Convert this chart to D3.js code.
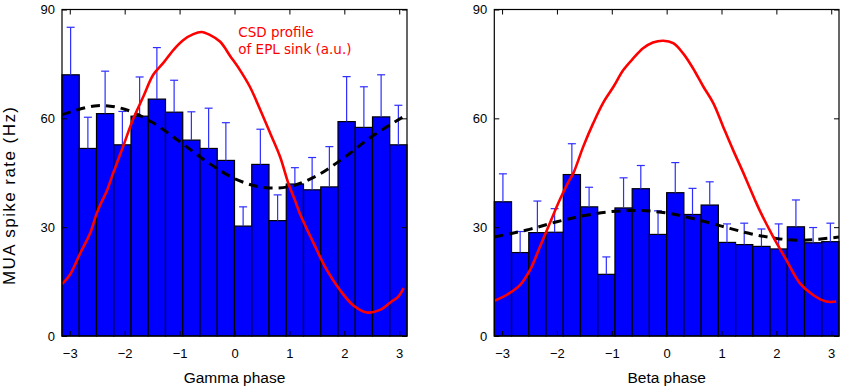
<!DOCTYPE html>
<html>
<head>
<meta charset="utf-8">
<script src="https://cdn.jsdelivr.net/npm/d3@7"></script>
<style>
    body { margin: 0; background: #fff; }
    svg { display: block; }
    text { font-family: "Liberation Sans", Arial, sans-serif; }
</style>
</head>
<body>
<svg id="drawing_region"></svg>
<script>
// tick labels
const phaseTicks = [-3, -2, -1, 0, 1, 2, 3];
const rateTicks = [0, 30, 60, 90];

// mean MUA rate per phase bin (20 bins over -pi..pi) and upper error (Hz)
const gammaRate = [72.0, 51.7, 61.3, 52.7, 60.6, 65.3, 61.7, 54.0, 51.7, 48.4, 30.3, 47.3, 31.8, 41.9, 40.3, 41.1, 59.1, 57.5, 60.4, 52.7];
const gammaErr  = [13.1, 8.6, 11.7, 9.2, 10.8, 14.2, 8.8, 7.8, 11.1, 10.4, 5.3, 9.7, 7.1, 4.5, 8.9, 11.1, 12.4, 11.2, 11.6, 10.9];
const betaRate  = [37.0, 23.0, 28.5, 28.6, 44.5, 35.6, 17.0, 35.3, 40.6, 28.0, 39.5, 33.5, 36.1, 25.8, 25.2, 24.7, 24.0, 30.1, 25.7, 26.0];
const betaErr   = [7.7, 5.8, 8.7, 6.5, 8.5, 5.4, 4.8, 8.3, 6.4, 6.5, 8.3, 7.2, 6.4, 5.1, 5.9, 4.8, 6.9, 7.4, 4.2, 5.1];

// dashed fit [phase, rate]
const gammaFit = [[-3.14, 61], [-2.5, 63.5], [-2, 62.5], [-1.5, 58.9], [-1, 53.6], [-0.5, 48], [0, 43.4],
    [0.5, 41], [1, 41.2], [1.5, 44.2], [2, 49.2], [2.5, 55], [3.14, 61]];
const betaFit = [[-3.14, 27.3], [-2.5, 29.4], [-2, 31.5], [-1.5, 33.2], [-1, 34.3], [-0.5, 34.6], [0, 33.9],
    [0.5, 32.3], [1, 30.3], [1.5, 28.3], [2, 26.9], [2.5, 26.4], [3.14, 27.3]];

// CSD profile (a.u., drawn on the rate scale) [phase, value]
const gammaCsd = [[-3.14, 14.3], [-3.0, 16.8], [-2.81, 22.8], [-2.63, 28.3], [-2.51, 33.8], [-2.42, 37.0], [-2.33, 39.8],
    [-2.21, 44.9], [-2.03, 52.2], [-1.84, 60.0], [-1.66, 66.0], [-1.48, 72.0], [-1.30, 75.2], [-1.11, 78.9],
    [-0.93, 81.6], [-0.75, 83.2], [-0.6, 83.8], [-0.45, 83.0], [-0.26, 81.1], [-0.08, 77.2], [0.10, 73.3],
    [0.28, 68.7], [0.47, 62.3], [0.65, 55.9], [0.83, 49.4], [0.98, 42.1], [1.10, 37.5], [1.19, 33.8],
    [1.44, 25.6], [1.68, 18.2], [1.92, 12.7], [2.16, 8.5], [2.41, 6.5], [2.65, 7.2], [2.86, 9.5],
    [2.98, 10.8], [3.08, 13.2]];
const betaCsd = [[-3.14, 9.7], [-2.92, 11.3], [-2.67, 14.1], [-2.49, 18.2], [-2.31, 24.6], [-2.13, 31.1],
    [-1.95, 37.5], [-1.79, 42.5], [-1.70, 44.9], [-1.52, 52.2], [-1.34, 58.6], [-1.16, 64.2], [-0.97, 68.7],
    [-0.79, 73.3], [-0.61, 76.5], [-0.43, 79.3], [-0.25, 80.9], [-0.06, 81.4], [0.12, 80.7], [0.30, 77.9],
    [0.48, 73.8], [0.67, 68.7], [0.85, 64.2], [1.03, 57.7], [1.21, 51.3], [1.40, 44.9], [1.61, 37.5],
    [1.70, 34.5], [1.94, 27.4], [2.18, 21.0], [2.43, 14.5], [2.67, 11.3], [2.91, 9.5], [3.09, 9.5]];

const svg = d3.select('#drawing_region')
    .attr('width', 850)
    .attr('height', 389);

class PhasePlot {

    constructor(config, data) {
        this.config = config;
        this.data = data;
        this.init();
    }

    init() {
        let self = this;
        const c = self.config;

        self.chart = svg.append('g')
            .attr('transform', `translate(${c.left}, ${c.top})`);

        self.inner_width = c.width;
        self.inner_height = c.height;

        self.xscale = d3.scaleLinear()
            .domain([-Math.PI, Math.PI])
            .range([0, self.inner_width]);

        self.yscale = d3.scaleLinear()
            .domain([0, 90])
            .range([self.inner_height, 0]);

        self.clip_id = 'clip_' + c.name;
        self.chart.append('clipPath')
            .attr('id', self.clip_id)
            .append('rect')
            .attr('width', self.inner_width)
            .attr('height', self.inner_height);
    }

    render() {
        let self = this;
        const d = self.data;
        const n = d.rate.length;
        const bw = 2 * Math.PI / n;
        const bins = d.rate.map((r, i) => ({ x0: -Math.PI + i * bw, x1: -Math.PI + (i + 1) * bw, rate: r, err: d.err[i] }));

        // bars
        self.chart.append('g')
            .selectAll('rect')
            .data(bins)
            .join('rect')
            .attr('x', b => self.xscale(b.x0))
            .attr('y', b => self.yscale(b.rate))
            .attr('width', b => self.xscale(b.x1) - self.xscale(b.x0))
            .attr('height', b => self.yscale(0) - self.yscale(b.rate))
            .attr('fill', '#0000ff')
            .attr('stroke', '#000')
            .attr('stroke-width', 1.2);

        // error bars (upper only)
        const eb = self.chart.append('g')
            .attr('stroke', '#2e2eff')
            .attr('stroke-width', 1.2);
        eb.selectAll('line.stem')
            .data(bins)
            .join('line')
            .attr('class', 'stem')
            .attr('x1', b => self.xscale((b.x0 + b.x1) / 2))
            .attr('x2', b => self.xscale((b.x0 + b.x1) / 2))
            .attr('y1', b => self.yscale(b.rate))
            .attr('y2', b => self.yscale(b.rate + b.err));
        eb.selectAll('line.cap')
            .data(bins)
            .join('line')
            .attr('class', 'cap')
            .attr('x1', b => self.xscale((b.x0 + b.x1) / 2) - 4)
            .attr('x2', b => self.xscale((b.x0 + b.x1) / 2) + 4)
            .attr('y1', b => self.yscale(b.rate + b.err))
            .attr('y2', b => self.yscale(b.rate + b.err));

        const line = d3.line()
            .x(p => self.xscale(p[0]))
            .y(p => self.yscale(p[1]))
            .curve(d3.curveCatmullRom);

        const lines = self.chart.append('g')
            .attr('clip-path', `url(#${self.clip_id})`);

        lines.append('path')
            .datum(d.fit)
            .attr('d', line)
            .attr('fill', 'none')
            .attr('stroke', '#000')
            .attr('stroke-width', 3)
            .attr('stroke-dasharray', '9,6');

        lines.append('path')
            .datum(d.csd)
            .attr('d', line)
            .attr('fill', 'none')
            .attr('stroke', '#ff0000')
            .attr('stroke-width', 2.6)
            .attr('stroke-linejoin', 'round');

        // axes with inward ticks on all sides
        const xbottom = d3.axisBottom(self.xscale)
            .tickValues(phaseTicks).tickFormat(d3.format('d'))
            .tickSizeInner(-5).tickSizeOuter(0).tickPadding(13);
        const xtop = d3.axisTop(self.xscale)
            .tickValues(phaseTicks).tickSizeInner(-5).tickSizeOuter(0).tickFormat('');
        const yleft = d3.axisLeft(self.yscale)
            .tickValues(rateTicks).tickFormat(d3.format('d'))
            .tickSizeInner(-5).tickSizeOuter(0).tickPadding(7);
        const yright = d3.axisRight(self.yscale)
            .tickValues(rateTicks).tickSizeInner(-5).tickSizeOuter(0).tickFormat('');

        const axes = [
            self.chart.append('g').attr('transform', `translate(0, ${self.inner_height})`).call(xbottom),
            self.chart.append('g').call(xtop),
            self.chart.append('g').call(yleft),
            self.chart.append('g').attr('transform', `translate(${self.inner_width}, 0)`).call(yright)
        ];
        axes.forEach(a => {
            a.select('.domain').remove();
            a.selectAll('line').attr('stroke', '#000').attr('stroke-width', 1);
            a.selectAll('text')
                .attr('fill', '#000')
                .style('font-family', '"Liberation Sans", Arial, sans-serif')
                .style('font-size', '13px');
        });

        self.chart.append('rect')
            .attr('width', self.inner_width)
            .attr('height', self.inner_height)
            .attr('fill', 'none')
            .attr('stroke', '#000')
            .attr('stroke-width', 1.2);

        self.chart.append('text')
            .attr('x', self.inner_width / 2)
            .attr('y', self.inner_height + 47)
            .attr('text-anchor', 'middle')
            .style('font-size', '15.5px')
            .text(self.config.xlabel);
    }
}

const gammaPlot = new PhasePlot(
    { name: 'gamma', left: 62, top: 9.5, width: 345, height: 326.5, xlabel: 'Gamma phase' },
    { rate: gammaRate, err: gammaErr, fit: gammaFit, csd: gammaCsd });
gammaPlot.render();

const betaPlot = new PhasePlot(
    { name: 'beta', left: 494.3, top: 9.5, width: 344.7, height: 326.5, xlabel: 'Beta phase' },
    { rate: betaRate, err: betaErr, fit: betaFit, csd: betaCsd });
betaPlot.render();

// y axis title
svg.append('text')
    .attr('transform', 'translate(15, 196) rotate(-90)')
    .attr('text-anchor', 'middle')
    .attr('textLength', 178)
    .attr('lengthAdjust', 'spacing')
    .style('font-size', '17px')
    .text('MUA spike rate (Hz)');

// CSD annotation
const note = svg.append('text')
    .attr('fill', '#ff0000')
    .style('font-family', '"DejaVu Sans", sans-serif')
    .style('font-size', '13.5px');
note.append('tspan').attr('x', 238.3).attr('y', 36.7).text('CSD profile');
note.append('tspan').attr('x', 238.3).attr('y', 54.3).text('of EPL sink (a.u.)');
</script>
</body>
</html>
